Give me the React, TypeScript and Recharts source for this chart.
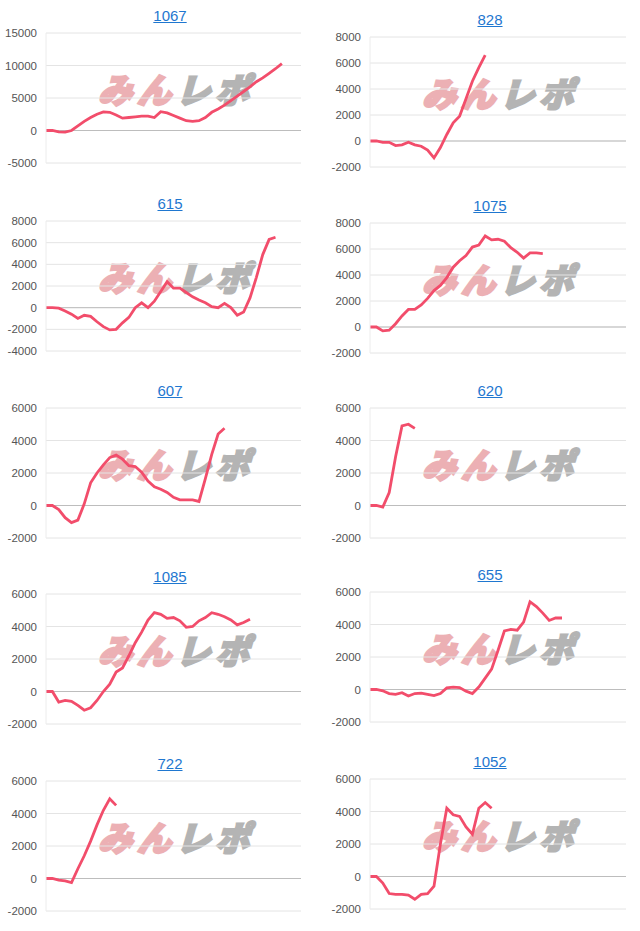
import { LineChart, Line, XAxis, YAxis, CartesianGrid, ReferenceLine } from 'recharts'

// x slots per panel (hidden axis), every series starts at slot 0
const slots = 40

const titles = ['1067', '828', '615', '1075', '607', '620', '1085', '655', '722', '1052']

const s1067 = [0, 0, -200, -250, 0, 700, 1400, 2000, 2500, 2850, 2800, 2400, 1900, 2000, 2100, 2200, 2200, 2000, 2900, 2700, 2300, 1900, 1500, 1400, 1500, 2000, 2800, 3300, 3900, 4600, 5300, 6000, 6700, 7500, 8100, 8800, 9500, 10300]
const s828 = [0, 0, -100, -100, -350, -300, -100, -300, -400, -700, -1300, -500, 500, 1400, 1900, 3250, 4600, 5650, 6600]
const s615 = [0, 0, -50, -300, -600, -1000, -700, -800, -1300, -1750, -2050, -2000, -1400, -900, 0, 450, 0, 600, 1500, 2400, 1800, 1800, 1400, 1000, 700, 450, 100, 0, 400, 0, -700, -400, 900, 2800, 4900, 6300, 6500]
const s1075 = [0, 0, -300, -250, 250, 850, 1350, 1350, 1700, 2200, 2800, 3200, 3800, 4600, 5100, 5500, 6150, 6300, 7000, 6700, 6750, 6600, 6100, 5750, 5300, 5700, 5700, 5650]
const s607 = [0, 0, -250, -750, -1050, -900, 100, 1400, 2000, 2500, 2950, 3100, 2850, 2450, 2400, 2050, 1500, 1150, 1000, 800, 500, 350, 350, 350, 250, 1650, 3150, 4400, 4750]
const s620 = [0, 0, -100, 800, 3000, 4900, 5000, 4750]
const s1085 = [0, 0, -650, -550, -600, -850, -1150, -1000, -550, 0, 450, 1200, 1450, 2200, 3000, 3650, 4400, 4850, 4750, 4500, 4550, 4350, 3950, 4000, 4350, 4550, 4850, 4750, 4600, 4400, 4100, 4250, 4450]
const s655 = [0, 0, -80, -250, -300, -200, -400, -250, -220, -300, -380, -250, 100, 150, 120, -100, -250, 150, 700, 1250, 2400, 3600, 3700, 3650, 4150, 5400, 5100, 4700, 4250, 4400, 4400]
const s722 = [0, 0, -100, -150, -250, 600, 1400, 2300, 3300, 4200, 4900, 4500]
const s1052 = [0, 0, -400, -1050, -1100, -1100, -1150, -1400, -1100, -1050, -600, 2000, 4200, 3800, 3700, 3050, 2600, 4200, 4550, 4200]

const series = [s1067, s828, s615, s1075, s607, s620, s1085, s655, s722, s1052]

const ticksWide = [-5000, 0, 5000, 10000, 15000]
const ticks8000 = [-2000, 0, 2000, 4000, 6000, 8000]
const ticks615 = [-4000, -2000, 0, 2000, 4000, 6000, 8000]
const ticks6000 = [-2000, 0, 2000, 4000, 6000]

const tickSets = [ticksWide, ticks8000, ticks615, ticks8000, ticks6000, ticks6000, ticks6000, ticks6000, ticks6000, ticks6000]

// layout: top edge of each plot area, and column settings
const plotTops = [33, 36.7, 220.7, 222.7, 408.3, 408.3, 594, 592, 781, 779]
const columns = [
    { x: 0, left: 6, right: 19 },
    { x: 320, left: 10, right: 14 },
]

const axisFont = 'Arial, "Liberation Sans", sans-serif'

function Watermark({ left, top }: { left: number; top: number }) {
    return (
        <div
            style={{
                position: 'absolute',
                left,
                top,
                width: 175,
                height: 30,
                fontFamily: '"Noto Sans CJK JP", sans-serif',
                fontWeight: 900,
                fontSize: 34,
                lineHeight: '30px',
                letterSpacing: 5,
                whiteSpace: 'nowrap',
                transform: 'skewX(-16deg)',
                opacity: 0.85,
            }}
        >
            <span style={{ color: '#e9a3a8', WebkitTextStroke: '2.5px #e9a3a8' }}>みん</span>
            <span style={{ color: '#a8a8a8', WebkitTextStroke: '2.5px #a8a8a8' }}>レポ</span>
        </div>
    )
}

function Panel({ index }: { index: number }) {
    const col = columns[index % 2]
    const top = plotTops[index]
    const ticks = tickSets[index]
    const data = series[index].map((v, i) => ({ i, v }))
    const plotLeft = col.left + 40

    return (
        <>
            <div
                style={{
                    position: 'absolute',
                    left: col.x,
                    top: top - 25,
                    width: 340,
                    textAlign: 'center',
                    fontFamily: axisFont,
                    fontSize: 15,
                    lineHeight: '15px',
                    color: '#1f77d0',
                    textDecoration: 'underline',
                }}
            >
                {titles[index]}
            </div>
            <Watermark left={col.x + plotLeft + 56} top={top + 41} />
            <div style={{ position: 'absolute', left: col.x, top: top - 10 }}>
                <LineChart
                    width={320}
                    height={150}
                    data={data}
                    margin={{ top: 10, bottom: 10, left: col.left, right: col.right }}
                >
                    <CartesianGrid vertical={false} stroke="#e4e4e4" />
                    <XAxis dataKey="i" type="number" domain={[0, slots]} hide />
                    <YAxis
                        width={40}
                        domain={[ticks[0], ticks[ticks.length - 1]]}
                        ticks={ticks}
                        interval={0}
                        axisLine={{ stroke: '#ececec' }}
                        tickLine={false}
                        tickMargin={3}
                        tick={{ fontSize: 11.5, fill: '#555', fontFamily: axisFont }}
                    />
                    <ReferenceLine y={0} stroke="#bdbdbd" />
                    <Line
                        type="linear"
                        dataKey="v"
                        stroke="#f24d6b"
                        strokeWidth={2.8}
                        dot={false}
                        isAnimationActive={false}
                    />
                </LineChart>
            </div>
        </>
    )
}

export default function App() {
    return (
        <div
            style={{
                position: 'absolute',
                left: 0,
                top: 0,
                width: 640,
                height: 931,
                background: '#fff',
            }}
        >
            {titles.map((t, i) => (
                <Panel key={t} index={i} />
            ))}
        </div>
    )
}
